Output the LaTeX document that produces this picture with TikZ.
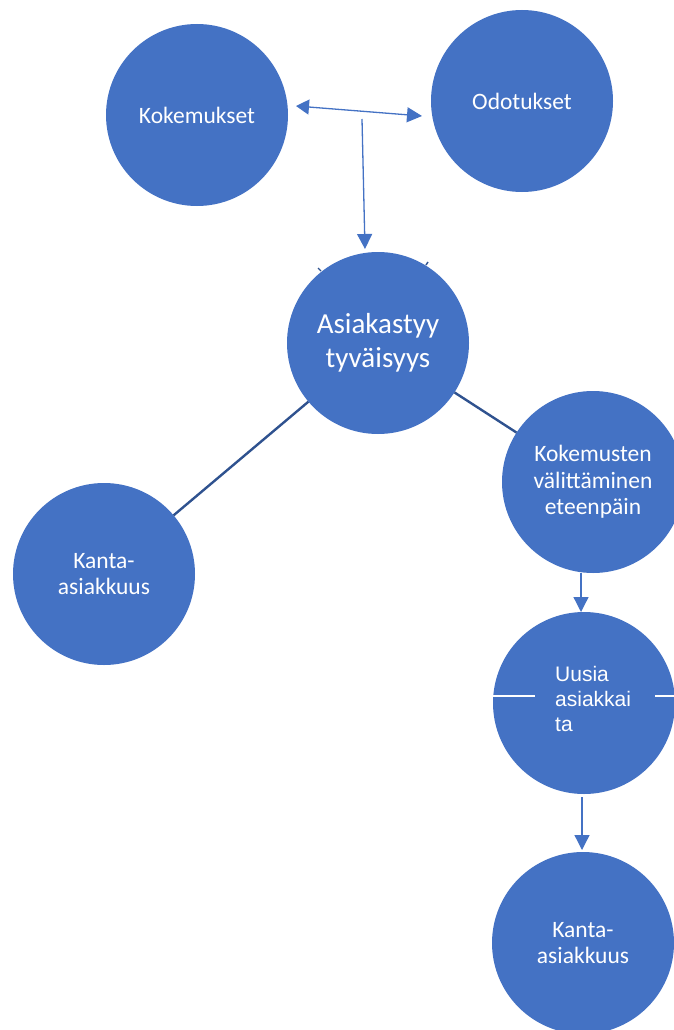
\documentclass[tikz,border=0pt]{standalone}
\usepackage{fontspec}
\setmainfont{Carlito}
\newfontfamily\arialfont{Liberation Sans}
\usetikzlibrary{arrows.meta}
\definecolor{cblue}{HTML}{4472C4}
\definecolor{dblue}{HTML}{2F528F}
\tikzset{
  circ/.style={circle, fill=cblue, minimum size=182pt, inner sep=0pt, outer sep=0pt,
    text=white, align=center},
  lbl/.style={font=\fontsize{23.5}{26.5}\selectfont},
  big/.style={font=\fontsize{29}{34}\selectfont},
  arr/.style={draw=cblue, line width=1.3pt, -{Triangle[length=15pt,width=15pt]}},
  darr/.style={draw=cblue, line width=1.3pt, {Triangle[length=13pt,width=15pt]}-{Triangle[length=15pt,width=15pt]}},
  conn/.style={draw=dblue, line width=2.4pt},
  tick/.style={draw=dblue, line width=1.4pt},
  wline/.style={draw=white, line width=1.3pt}
}
\begin{document}
\begin{tikzpicture}[x=1pt,y=-1pt]
\useasboundingbox (0,0) rectangle (674,1030);
\clip (0,0) rectangle (674,1030);
% circles
\node[circ,lbl] (kok) at (197,115) {Kokemukset};
\node[circ,lbl] (odo) at (522,101) {Odotukset};
\node[circ,big] (asi) at (378,343) {Asiakastyy\\tyväisyys};
\node[circ,lbl] (kom) at (593,482) {Kokemusten\\välittäminen\\eteenpäin};
\node[circ,lbl] (kan1) at (104,574) {Kanta-\\asiakkuus};
\node[circ] (uus) at (584,703) {};
\node[circ,lbl] (kan2) at (583,943) {Kanta-\\asiakkuus};
% text of Uusia asiakkaita
\node[anchor=base west, inner sep=0pt, text=white, font=\arialfont\fontsize{21}{25}\selectfont]
  (uusa) at (555,681.7) {Uusia};
\node[anchor=base west, inner sep=0pt, text=white, font=\arialfont\fontsize{21}{25}\selectfont]
  (uusb) at (555,706.7) {asiakkai};
\node[anchor=base west, inner sep=0pt, text=white, font=\arialfont\fontsize{21}{25}\selectfont]
  (uusc) at (555,731.7) {ta};
\draw[wline] ([shift={(0,-7)}]uus.west) -- ++(42,0);
\draw[wline] ([shift={(-20,-7)}]uus.east) -- ++(20,0);
% connectors
\coordinate (mid) at (362,119);
\draw[darr] ([shift={(8,-9)}]kok.east) -- ([shift={(-9,15)}]odo.west);
\draw[arr] (mid) -- ([shift={(-13,-3)}]asi.north);
\draw[conn] (asi) -- (kan1);
\draw[conn] (asi) -- (kom);
\draw[arr] ([xshift=-12]kom.south) -- ([xshift=-3]uus.south |- uus.north);
\draw[arr] ([shift={(-2,3)}]uus.south) -- ([shift={(-1,-2)}]kan2.north);
% small ticks
\coordinate (t1) at (318,268);
\coordinate (t2) at (426,265);
\draw[tick] (t1) -- ++(3,3);
\draw[tick] (t2) -- ++(2,-3);
\end{tikzpicture}
\end{document}
